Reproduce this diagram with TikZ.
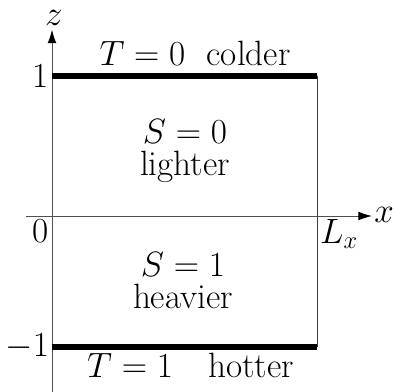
\documentclass[tikz,border=0pt]{standalone}
\usepackage{fix-cm}
\usepackage{xcolor}
\usepackage{tikz}
\usetikzlibrary{calc,positioning,arrows.meta}
\definecolor{axc}{RGB}{80,80,80}

\begin{document}
\begin{tikzpicture}[
    axis/.style={-{Latex[length=3.4mm,width=2.2mm,black]},line width=0.7pt,axc},
    wall/.style={line width=4.2pt,black},
    side/.style={line width=0.7pt,black!75},
    lbl/.style={font=\fontsize{25}{24}\selectfont,align=center,inner sep=0pt},
    tick/.style={font=\fontsize{25}{24}\selectfont,inner sep=2pt}
  ]
  \useasboundingbox (-1.3,-4.375) rectangle (8.55,5.4);
  \coordinate (o)   at (0,0);
  \coordinate (tl)  at (0,3.51);
  \coordinate (tr)  at (6.625,3.51);
  \coordinate (bl)  at (0,-3.275);
  \coordinate (br)  at (6.625,-3.275);
  \coordinate (lx)  at (6.625,0);
  \coordinate (xs)  at (-0.65,0);
  \coordinate (xe)  at (8.0,0);
  \coordinate (zs)  at (0,-4.5);
  \coordinate (ze)  at (0,4.66);
  \draw[axis] (xs) -- (xe);
  \draw[axis] (zs) -- (ze);
  \node[tick,anchor=west]  (xlab) at (7.98,0.02) {$x$};
  \node[tick,inner sep=0pt,anchor=base] (zlab) at (0.05,4.76) {$z$};
  \draw[side] (tr) -- (br);
  \draw[wall] (tl) -- (tr);
  \draw[wall] (bl) -- (br);
  \node[tick,left]        (one)  at (tl) {1};
  \node[tick,left]        (mone) at (bl) {$-1$};
  \node[tick,below left]  (zero) at (o)  {0};
  \node[tick,below right] (len)  at (lx) {$L_x$};
  \node[lbl,anchor=base] (cold) at (3.575,3.775) {$T=0$\ \ colder};
  \node[lbl,anchor=base] (hot)  at (3.46,-4.025) {$T=1$\quad hotter};
  \node[lbl,anchor=base] (sa)   at (3.325,1.825) {$S=0$};
  \node[lbl,anchor=base] (la)   at (3.325,1.025) {lighter};
  \node[lbl,anchor=base] (sb)   at (3.275,-1.5) {$S=1$};
  \node[lbl,anchor=base] (hb)   at (3.275,-2.3)  {heavier};
\end{tikzpicture}
\end{document}
